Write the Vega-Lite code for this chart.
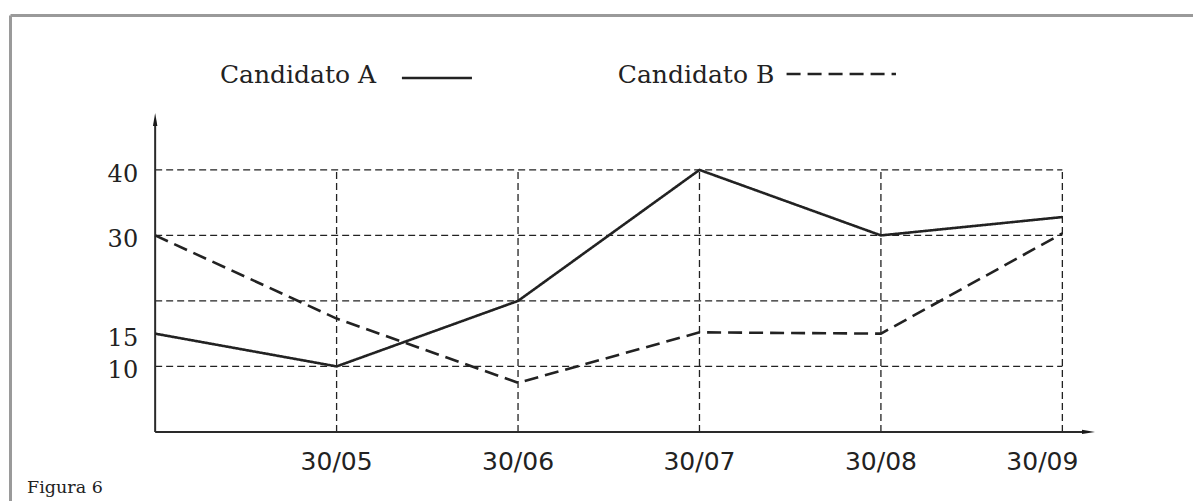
{
  "$schema": "https://vega.github.io/schema/vega-lite/v6.json",
  "width": 1183,
  "height": 486,
  "autosize": {"type": "none"},
  "padding": {"left": 10, "top": 15, "right": 0, "bottom": 0},
  "background": "white",
  "config": {
    "view": {"stroke": null},
    "axis": {"domainColor": "#9a9a9a", "domainWidth": 3, "ticks": false, "labels": false, "grid": false}
  },
  "datasets": {
    "series": [
      {"t": 0, "series": "A", "value": 15},
      {"t": 1, "series": "A", "value": 10},
      {"t": 2, "series": "A", "value": 20},
      {"t": 3, "series": "A", "value": 40},
      {"t": 4, "series": "A", "value": 30},
      {"t": 5, "series": "A", "value": 32.8},
      {"t": 0, "series": "B", "value": 30},
      {"t": 1, "series": "B", "value": 17.3},
      {"t": 2, "series": "B", "value": 7.5},
      {"t": 3, "series": "B", "value": 15.2},
      {"t": 4, "series": "B", "value": 15},
      {"t": 5, "series": "B", "value": 30.3}
    ],
    "dates": [
      {"t": 1, "label": "30/05"},
      {"t": 2, "label": "30/06"},
      {"t": 3, "label": "30/07"},
      {"t": 4, "label": "30/08"},
      {"t": 5, "label": "30/09"}
    ],
    "levels": [{"v": 10}, {"v": 20}, {"v": 30}, {"v": 40}],
    "ylabels": [{"v": 40}, {"v": 30}, {"v": 15}, {"v": 10}]
  },
  "layer": [
    {
      "data": {"name": "levels"},
      "mark": {"type": "rule", "color": "#222", "strokeWidth": 1.3, "strokeDash": [7, 4]},
      "encoding": {
        "y": {"field": "v", "type": "quantitative", "scale": {"domain": [-10.55, 63.65], "nice": false, "zero": false}, "axis": {"title": null}},
        "x": {"datum": 0, "type": "quantitative", "scale": {"domain": [-0.8, 5.72], "nice": false, "zero": false}, "axis": {"orient": "top", "title": null}},
        "x2": {"datum": 5}
      }
    },
    {
      "data": {"name": "dates"},
      "mark": {"type": "rule", "color": "#222", "strokeWidth": 1.3, "strokeDash": [7, 4]},
      "encoding": {
        "x": {"field": "t", "type": "quantitative", "scale": {"domain": [-0.8, 5.72], "nice": false, "zero": false}, "axis": {"orient": "top", "title": null}},
        "y": {"datum": 0, "type": "quantitative", "scale": {"domain": [-10.55, 63.65], "nice": false, "zero": false}, "axis": {"title": null}},
        "y2": {"datum": 40}
      }
    },
    {
      "data": {"values": [{}]},
      "mark": {"type": "rule", "color": "#2a2a2a", "strokeWidth": 2},
      "encoding": {
        "x": {"datum": 0, "type": "quantitative", "scale": {"domain": [-0.8, 5.72], "nice": false, "zero": false}, "axis": {"orient": "top", "title": null}},
        "x2": {"datum": 5.14},
        "y": {"datum": 0, "type": "quantitative", "scale": {"domain": [-10.55, 63.65], "nice": false, "zero": false}, "axis": {"title": null}}
      }
    },
    {
      "data": {"values": [{}]},
      "mark": {"type": "rule", "color": "#2a2a2a", "strokeWidth": 2},
      "encoding": {
        "x": {"datum": 0, "type": "quantitative", "scale": {"domain": [-0.8, 5.72], "nice": false, "zero": false}, "axis": {"orient": "top", "title": null}},
        "y": {"datum": 0, "type": "quantitative", "scale": {"domain": [-10.55, 63.65], "nice": false, "zero": false}, "axis": {"title": null}},
        "y2": {"datum": 47.6}
      }
    },
    {
      "data": {"values": [{}]},
      "mark": {"type": "point", "shape": "M0,-1L0.34,1L-0.34,1Z", "size": 169, "filled": true, "color": "#1a1a1a", "opacity": 1},
      "encoding": {
        "x": {"datum": 0, "type": "quantitative", "scale": {"domain": [-0.8, 5.72], "nice": false, "zero": false}, "axis": {"orient": "top", "title": null}},
        "y": {"datum": 47.69, "type": "quantitative", "scale": {"domain": [-10.55, 63.65], "nice": false, "zero": false}, "axis": {"title": null}}
      }
    },
    {
      "data": {"values": [{}]},
      "mark": {"type": "point", "shape": "M1,0L-1,0.34L-1,-0.34Z", "size": 169, "filled": true, "color": "#1a1a1a", "opacity": 1},
      "encoding": {
        "x": {"datum": 5.144, "type": "quantitative", "scale": {"domain": [-0.8, 5.72], "nice": false, "zero": false}, "axis": {"orient": "top", "title": null}},
        "y": {"datum": 0, "type": "quantitative", "scale": {"domain": [-10.55, 63.65], "nice": false, "zero": false}, "axis": {"title": null}}
      }
    },
    {
      "data": {"name": "series"},
      "mark": {"type": "line", "color": "#222", "strokeWidth": 2.6, "strokeJoin": "miter"},
      "encoding": {
        "x": {"field": "t", "type": "quantitative", "scale": {"domain": [-0.8, 5.72], "nice": false, "zero": false}, "axis": {"orient": "top", "title": null}},
        "y": {"field": "value", "type": "quantitative", "scale": {"domain": [-10.55, 63.65], "nice": false, "zero": false}, "axis": {"title": null}},
        "strokeDash": {"field": "series", "type": "nominal", "scale": {"domain": ["A", "B"], "range": [[1, 0], [14, 7]]}, "legend": null},
        "detail": {"field": "series"}
      }
    },
    {
      "data": {"name": "dates"},
      "transform": [{"filter": "datum.t < 5"}],
      "mark": {"type": "text", "font": "DejaVu Sans", "fontSize": 25, "color": "#222", "align": "center", "baseline": "alphabetic", "dy": 38},
      "encoding": {
        "x": {"field": "t", "type": "quantitative", "scale": {"domain": [-0.8, 5.72], "nice": false, "zero": false}, "axis": {"orient": "top", "title": null}},
        "y": {"datum": 0, "type": "quantitative", "scale": {"domain": [-10.55, 63.65], "nice": false, "zero": false}, "axis": {"title": null}},
        "text": {"field": "label"}
      }
    },
    {
      "data": {"name": "dates"},
      "transform": [{"filter": "datum.t == 5"}],
      "mark": {"type": "text", "font": "DejaVu Sans", "fontSize": 25, "color": "#222", "align": "center", "baseline": "alphabetic", "dy": 38, "dx": -20},
      "encoding": {
        "x": {"field": "t", "type": "quantitative", "scale": {"domain": [-0.8, 5.72], "nice": false, "zero": false}, "axis": {"orient": "top", "title": null}},
        "y": {"datum": 0, "type": "quantitative", "scale": {"domain": [-10.55, 63.65], "nice": false, "zero": false}, "axis": {"title": null}},
        "text": {"field": "label"}
      }
    },
    {
      "data": {"name": "ylabels"},
      "mark": {"type": "text", "font": "DejaVu Serif", "fontSize": 24, "color": "#222", "align": "right", "baseline": "alphabetic", "dx": -17, "dy": 12},
      "encoding": {
        "x": {"datum": 0, "type": "quantitative", "scale": {"domain": [-0.8, 5.72], "nice": false, "zero": false}, "axis": {"orient": "top", "title": null}},
        "y": {"field": "v", "type": "quantitative", "scale": {"domain": [-10.55, 63.65], "nice": false, "zero": false}, "axis": {"title": null}},
        "text": {"field": "v"}
      }
    },
    {
      "data": {"values": [{"label": "Candidato A"}]},
      "mark": {"type": "text", "font": "DejaVu Serif", "fontSize": 25, "color": "#222", "align": "left", "baseline": "alphabetic"},
      "encoding": {
        "x": {"datum": 0.357, "type": "quantitative", "scale": {"domain": [-0.8, 5.72], "nice": false, "zero": false}, "axis": {"orient": "top", "title": null}},
        "y": {"datum": 53.27, "type": "quantitative", "scale": {"domain": [-10.55, 63.65], "nice": false, "zero": false}, "axis": {"title": null}},
        "text": {"field": "label"}
      }
    },
    {
      "data": {"values": [{"label": "Candidato B"}]},
      "mark": {"type": "text", "font": "DejaVu Serif", "fontSize": 25, "color": "#222", "align": "left", "baseline": "alphabetic"},
      "encoding": {
        "x": {"datum": 2.55, "type": "quantitative", "scale": {"domain": [-0.8, 5.72], "nice": false, "zero": false}, "axis": {"orient": "top", "title": null}},
        "y": {"datum": 53.27, "type": "quantitative", "scale": {"domain": [-10.55, 63.65], "nice": false, "zero": false}, "axis": {"title": null}},
        "text": {"field": "label"}
      }
    },
    {
      "data": {"values": [{"series": "A"}]},
      "mark": {"type": "rule", "color": "#222", "strokeWidth": 2.6},
      "encoding": {
        "x": {"datum": 1.36, "type": "quantitative", "scale": {"domain": [-0.8, 5.72], "nice": false, "zero": false}, "axis": {"orient": "top", "title": null}},
        "x2": {"datum": 1.746},
        "y": {"datum": 54.03, "type": "quantitative", "scale": {"domain": [-10.55, 63.65], "nice": false, "zero": false}, "axis": {"title": null}}
      }
    },
    {
      "data": {"values": [{"series": "B"}]},
      "mark": {"type": "rule", "color": "#222", "strokeWidth": 2.6, "strokeDash": [14, 7]},
      "encoding": {
        "x": {"datum": 3.48, "type": "quantitative", "scale": {"domain": [-0.8, 5.72], "nice": false, "zero": false}, "axis": {"orient": "top", "title": null}},
        "x2": {"datum": 4.083},
        "y": {"datum": 54.64, "type": "quantitative", "scale": {"domain": [-10.55, 63.65], "nice": false, "zero": false}, "axis": {"title": null}}
      }
    },
    {
      "data": {"values": [{"label": "Figura 6"}]},
      "mark": {"type": "text", "font": "DejaVu Serif", "fontSize": 17.5, "color": "#222", "align": "left", "baseline": "alphabetic"},
      "encoding": {
        "x": {"datum": -0.706, "type": "quantitative", "scale": {"domain": [-0.8, 5.72], "nice": false, "zero": false}, "axis": {"orient": "top", "title": null}},
        "y": {"datum": -9.33, "type": "quantitative", "scale": {"domain": [-10.55, 63.65], "nice": false, "zero": false}, "axis": {"title": null}},
        "text": {"field": "label"}
      }
    }
  ]
}
